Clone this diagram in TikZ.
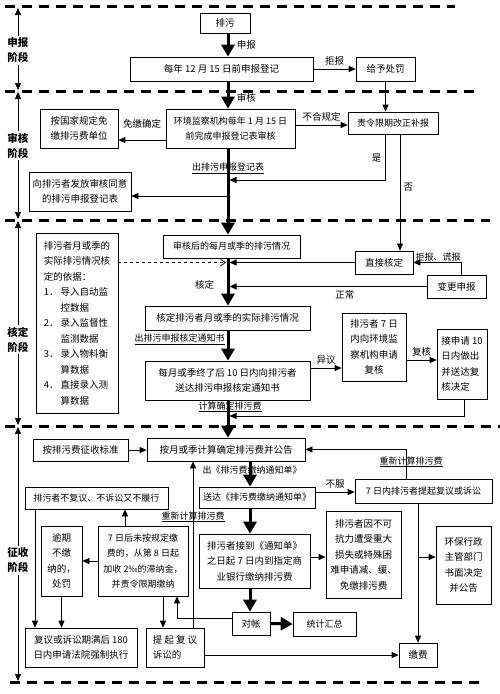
\documentclass[tikz,border=0pt]{standalone}
\usepackage{fontspec}
\setmainfont{Noto Sans CJK SC}
\usepackage{tikz}
\usetikzlibrary{arrows.meta}

\begin{document}
\begin{tikzpicture}[x=1pt, y=-1pt]
    \tikzstyle{every node} = [font=\fontsize{9.5}{15.5}\selectfont]
    \tikzstyle{small} = [font=\fontsize{9}{15.5}\selectfont]
    \tikzstyle{box} = [draw, line width=0.7pt, inner sep=1pt, align=center]
    \tikzstyle{stage} = [font=\fontsize{10.5}{15}\selectfont\bfseries, align=center, inner sep=2pt]
    \tikzstyle{arrow} = [line width=0.7pt, -{Triangle[length=7pt, width=6pt]}]
    \tikzstyle{bigarrow} = [line width=3pt, -{Triangle[length=12pt, width=13pt]}]
    \tikzstyle{sepline} = [line width=3pt, dash pattern=on 10pt off 7pt]
    \tikzstyle{lbl} = [inner sep=1pt, small]

    \useasboundingbox (0,0) rectangle (500,694);

    \foreach \y/\a/\b in {6/5/455, 91/5/478, 220/5/490, 426/5/500, 682/10/485}
      \draw [sepline] (\a,\y) -- (\b,\y);

    \foreach \n/\t/\y/\a/\b in {1/申报/50.5/8/90, 2/审核/145.5/92/219, 3/核定/339.5/221/425, 4/征收/560.5/427/681} {
      \node [stage] (stage\n) at (18,\y) {\t\\阶段};
      \coordinate (up\n) at (18,\a);
      \coordinate (down\n) at (18,\b);
      \draw [arrow] (stage\n.north) -- (up\n);
      \draw [arrow] (stage\n.south) -- (down\n);
    }

    \node [box, minimum width=50pt, minimum height=20pt] (paiwu) at (225,23) {排污};
    \node [box, minimum width=183pt, minimum height=24pt] (shenbao) at (221.5,69) {每年 12 月 15 日前申报登记};
    \node [box, minimum width=59pt, minimum height=24pt] (chufa) at (385.5,69) {给予处罚};
    \node [box, minimum width=78pt, minimum height=39pt] (mianjiao) at (79,128.5) {按国家规定免\\缴排污费单位};
    \node [box, small, minimum width=129pt, minimum height=39pt] (shenhe) at (230.5,128.5) {环境监察机构每年 1 月 15 日\\前完成申报登记表审核};
    \node [box, small, minimum width=90pt, minimum height=22pt] (gaizheng) at (393,123) {责令限期改正补报};
    \node [box, minimum width=102pt, minimum height=39pt] (fafang) at (80,191.5) {向排污者发放审核同意\\的排污申报登记表};

    \node [box, small, minimum width=137pt, minimum height=23pt] (qingkuang) at (231.5,246.5) {审核后的每月或季的排污情况};
    \node [box, minimum width=82pt, minimum height=180pt, align=left] (yiju) at (77,323) {排污者月或季的\\实际排污情况核\\定的依据：\\1． 导入自动监\\\phantom{1． }控数据\\2． 录入监督性\\\phantom{1． }监测数据\\3． 录入物料衡\\\phantom{1． }算数据\\4． 直接录入测\\\phantom{1． }算数据};
    \node [box, minimum width=58pt, minimum height=23pt] (zhijie) at (384,262.5) {直接核定};
    \node [box, minimum width=59pt, minimum height=23pt] (biangeng) at (456.5,286.5) {变更申报};
    \node [box, minimum width=165pt, minimum height=24pt] (heding) at (227.5,318) {核定排污者月或季的实际排污情况};
    \node [box, minimum width=64pt, minimum height=68pt] (fuhe) at (374,347) {排污者 7 日\\内向环境监\\察机构申请\\复核};
    \node [box, minimum width=50pt, minimum height=70pt, align=left] (jueding) at (462,364) {接申请 10\\日内做出\\并送达复\\核决定};
    \node [box, minimum width=165pt, minimum height=39pt] (songda) at (227.5,380.5) {每月或季终了后 10 日内向排污者\\送达排污申报核定通知书};

    \node [box, minimum width=95pt, minimum height=22pt] (biaozhun) at (80.5,450) {按排污费征收标准};
    \node [box, minimum width=158pt, minimum height=23pt] (jisuan) at (226,449.5) {按月或季计算确定排污费并公告};
    \node [box, small, minimum width=143pt, minimum height=22pt] (buluxing) at (96.5,498) {排污者不复议、不诉讼又不履行};
    \node [box, small, minimum width=116pt, minimum height=21pt] (tongzhi) at (257,497.5) {送达《排污费缴纳通知单》};
    \node [box, small, minimum width=137pt, minimum height=24pt] (tiqi) at (423.5,491) {7 日内排污者提起复议或诉讼};
    \node [box, minimum width=41pt, minimum height=70pt] (yuqi) at (61.5,561) {逾期\\不缴\\纳的，\\处罚};
    \node [box, small, minimum width=90pt, minimum height=70pt] (zhinajin) at (143,561) {7 日后未按规定缴\\费的，从第 8 日起\\加收 2‰的滞纳金，\\并责令限期缴纳};
    \node [box, minimum width=111pt, minimum height=54pt] (jiaona) at (254.5,561) {排污者接到《通知单》\\之日起 7 日内到指定商\\业银行缴纳排污费};
    \node [box, minimum width=75pt, minimum height=87pt] (jianhuan) at (363.5,554.5) {排污者因不可\\抗力遭受重大\\损失或特殊困\\难申请减、缓、\\免缴排污费};
    \node [box, minimum width=55pt, minimum height=78pt] (gonggao) at (463.5,565) {环保行政\\主管部门\\书面决定\\并公告};
    \node [box, minimum width=112pt, minimum height=39pt] (zhixing) at (81,647.5) {复议或诉讼期满后 180\\日内申请法院强制执行};
    \node [box, minimum width=58pt, minimum height=39pt, align=left] (susong) at (175,647.5) {提 起 复 议\\诉讼的};
    \node [box, minimum width=38pt, minimum height=23pt] (duizhang) at (251,623.5) {对帐};
    \node [box, small, minimum width=63pt, minimum height=24pt] (huizong) at (324.5,624) {统计汇总};
    \node [box, minimum width=38pt, minimum height=24pt] (jiaofei) at (418,655) {缴费};

    \coordinate (col) at (228,0);
    \coordinate (col2) at (250,0);

    \draw [bigarrow] (col |- paiwu.south) -- (col |- shenbao.north) node [midway, right, xshift=4pt] {申报};
    \draw [bigarrow] (col |- shenbao.south) -- (col |- shenhe.north) node [pos=0.6, right, xshift=4pt] {审核};
    \draw [arrow] (shenbao.east) -- (chufa.west) node [midway, above] {拒报};
    \draw [arrow] (chufa.south) -- (chufa.south |- gaizheng.north);
    \draw [arrow] ([yshift=-11.5pt]shenhe.west) -- ([yshift=-11.5pt]shenhe.west -| mianjiao.east) node [midway, above=8pt] {免缴确定};
    \draw [arrow] ([yshift=3.5pt]shenhe.east) -- ([yshift=3.5pt]shenhe.east -| gaizheng.west) node [midway, above] {不合规定};
    \draw [bigarrow] (col |- shenhe.south) -- (col |- qingkuang.north) node [pos=0.23, lbl] {\underline{出排污申报登记表}};
    \coordinate (shi) at (229.5,180);
    \draw [arrow] ([xshift=-8pt]gaizheng.south) |- (shi) node [pos=0.26, left] {是};
    \coordinate (fa) at (228,196);
    \draw [arrow] (fa) -- (fa -| fafang.east);
    \draw [arrow] ([xshift=7pt]gaizheng.south) -- ([xshift=7pt]gaizheng.south |- zhijie.north) node [pos=0.45, right] {否};

    \draw [bigarrow] (col |- qingkuang.south) -- (col |- heding.north) node [pos=0.56, left, xshift=-9pt] {核定};
    \draw [dashed, line width=0.7pt, -{Straight Barb[length=5pt, width=7pt]}] (yiju.east |- zhijie.west) -- ([xshift=-2pt]col |- zhijie.west);
    \draw [arrow] (zhijie.west) -- ([xshift=1.5pt]col |- zhijie.west);
    \draw [arrow] (biangeng.west) -- ([xshift=1.5pt]col |- biangeng.west) node [pos=0.415, below] {正常};
    \draw [arrow] ([xshift=4.5pt]biangeng.north) |- (zhijie.east) node [pos=0.74, above, lbl] {拒报、谎报};
    \draw [bigarrow] (col |- heding.south) -- (col |- songda.north) node [pos=0.29, left, xshift=-1pt, lbl] {\underline{出排污申报核定通知书}};
    \draw [arrow] ([yshift=12.5pt]songda.east) -- ([yshift=12.5pt]songda.east -| fuhe.west) node [midway, above] {异议};
    \draw [arrow] ([yshift=-13pt]fuhe.east) -- ([yshift=-13pt]fuhe.east -| jueding.west) node [midway, above] {复核};
    \coordinate (hui) at (229.5,416);
    \draw [arrow] ([xshift=2pt]jueding.south) |- (hui);
    \draw [bigarrow] (col |- songda.south) -- (col |- jisuan.north) node [pos=0.18, lbl, xshift=2pt] {\underline{计算确定排污费}};

    \draw [arrow] (biaozhun.east) -- (biaozhun.east -| jisuan.west);
    \draw [bigarrow] (col2 |- jisuan.south) -- (col2 |- tongzhi.north) node [pos=0.33, lbl, xshift=2pt] {出《排污费缴纳通知单》};
    \draw [arrow] ([yshift=5.5pt]tongzhi.east) -- ([yshift=5.5pt]tongzhi.east -| tiqi.west) node [midway, above] {不服};
    \draw [arrow] ([xshift=-17.5pt]tiqi.north) |- (jisuan.east) node [pos=0.29, lbl, xshift=5pt] {\underline{重新计算排污费}};
    \draw [bigarrow] (col2 |- tongzhi.south) -- (col2 |- jiaona.north);
    \draw [bigarrow] (col2 |- jiaona.south) -- (col2 |- duizhang.north);
    \draw [bigarrow] (duizhang.east) -- (huizong.west);
    \draw [arrow] ([yshift=4pt]jiaona.east) -- ([yshift=4pt]jiaona.east -| jianhuan.west);
    \draw [arrow] (tiqi.south -| jiaofei.north) -- (jiaofei.north);
    \draw [arrow] ([yshift=4pt]jiaona.east -| jiaofei.north) -- ([yshift=4pt]jiaona.east -| gonggao.west);
    \draw [arrow] ([xshift=-18pt]zhinajin.north) -- ([xshift=-18pt]zhinajin.north |- buluxing.south);
    \draw [arrow] (zhinajin.west) -- (yuqi.east);
    \draw [arrow] ([xshift=-61.5pt]buluxing.south) -- ([xshift=-61.5pt]buluxing.south |- zhixing.north);
    \draw [arrow] (yuqi.south) -- (yuqi.south |- zhixing.north);
    \draw [arrow] ([xshift=20pt]zhinajin.south) -- ([xshift=20pt]zhinajin.south |- susong.north);
    \draw [arrow] ([xshift=18pt]susong.north) -- ([xshift=18pt]susong.north |- jisuan.south) node [pos=0.667, lbl] {\underline{重新计算排污费}};
    \draw [arrow] (susong.east |- jiaofei.west) -- (jiaofei.west);
    \draw [arrow] ([yshift=5.5pt]duizhang.west) -| ([xshift=34pt]zhinajin.south);
  \end{tikzpicture}
\end{document}
